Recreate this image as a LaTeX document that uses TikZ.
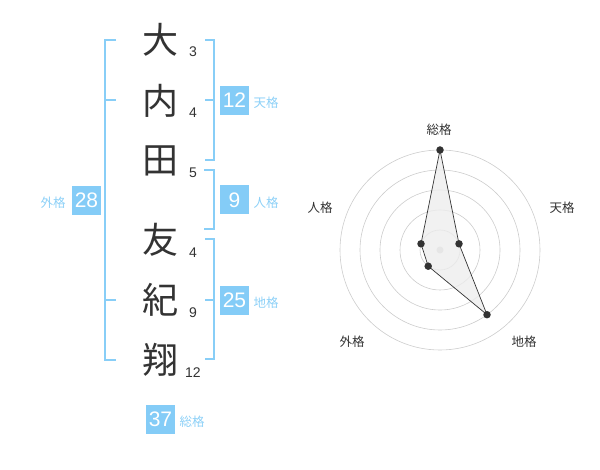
\documentclass[tikz,border=0pt]{standalone}
\usepackage{fontspec}
\setmainfont{Liberation Sans}
\newfontfamily\jpfont{Noto Sans CJK JP}
\definecolor{kbox}{HTML}{84CCF7}
\definecolor{kline}{HTML}{88CEF7}
\definecolor{klabel}{HTML}{8CD0F7}
\definecolor{ktext}{HTML}{333333}
\definecolor{kgrid}{HTML}{CCCCCC}
\tikzset{
  kanji/.style={font=\jpfont\fontsize{36}{36}\selectfont, text=ktext, inner sep=0pt},
  strokes/.style={font=\fontsize{14}{14}\selectfont, text=ktext, inner sep=0pt},
  brk/.style={draw=kline, line width=2pt},
  valbox/.style={fill=kbox, text=white, minimum width=29pt, minimum height=29pt, inner sep=0pt, font=\fontsize{21}{21}\selectfont},
  vlabel/.style={font=\jpfont\fontsize{12.5}{12.5}\selectfont, text=klabel, inner sep=0pt},
  rlabel/.style={font=\jpfont\fontsize{12.5}{12.5}\selectfont, text=ktext, inner sep=0pt},
  ring/.style={draw=kgrid, line width=0.6pt},
  dot/.style={circle, fill=ktext, inner sep=0pt, minimum size=7.5pt},
}
\begin{document}
\begin{tikzpicture}[x=1pt,y=-1pt]
\useasboundingbox (0,0) rectangle (600,470);
% characters
\node[kanji] (c1) at (160,40) {大};
\node[kanji] (c2) at (160,101) {内};
\node[kanji] (c3) at (160,161) {田};
\node[kanji] (c4) at (160,240) {友};
\node[kanji] (c5) at (160,300) {紀};
\node[kanji] (c6) at (160,360) {翔};
\node[strokes] (s1) at (193,52) {3};
\node[strokes] (s2) at (193,113) {4};
\node[strokes] (s3) at (193,173) {5};
\node[strokes] (s4) at (193,253) {4};
\node[strokes] (s5) at (193,313) {9};
\node[strokes] (s6) at (193,373) {12};
% left bracket (gaikaku)
\draw[brk] (116,40) -- (105,40) -- (105,360) -- (116,360);
\draw[brk] (105,100) -- (116,100);
\draw[brk] (105,300) -- (116,300);
% right brackets
\draw[brk] (205,40) -- (214,40) -- (214,160) -- (205,160);
\draw[brk] (205,100) -- (214,100);
\draw[brk] (204,170) -- (214,170) -- (214,229) -- (204,229);
\draw[brk] (205,239) -- (214,239) -- (214,359) -- (205,359);
\draw[brk] (205,300) -- (214,300);
% value boxes
\node[valbox] (ten) at (234.5,100.5) {12};
\node[vlabel] (tenl) at (266,103) {天格};
\node[valbox] (jin) at (234.5,200) {9};
\node[vlabel] (jinl) at (266,203) {人格};
\node[valbox] (chi) at (234.5,300.5) {25};
\node[vlabel] (chil) at (266,303) {地格};
\node[valbox] (gai) at (86.5,200.5) {28};
\node[vlabel] (gail) at (53,203) {外格};
\node[valbox] (sou) at (160.5,419.5) {37};
\node[vlabel] (soul) at (192,422) {総格};
% radar chart
\coordinate (rc) at (440,250);
\foreach \r in {20,40,60,80,100} \draw[ring] (rc) circle (\r pt);
\fill[kgrid] (rc) circle (3.5pt);
\coordinate (pS) at (440,150);
\coordinate (pT) at (459.0,243.8);
\coordinate (pC) at (487.0,314.7);
\coordinate (pG) at (428.2,266.2);
\coordinate (pJ) at (421.0,243.8);
\draw[fill=black!7, fill opacity=0.8, draw=ktext, line width=0.7pt] (pS) -- (pT) -- (pC) -- (pG) -- (pJ) -- cycle;
\foreach \p in {pS,pT,pC,pG,pJ} \node[dot] at (\p) {};
\node[rlabel] (rS) at (439,130) {総格};
\node[rlabel] (rT) at (562,208) {天格};
\node[rlabel] (rJ) at (320,208) {人格};
\node[rlabel] (rG) at (352,342) {外格};
\node[rlabel] (rC) at (524,342) {地格};
\end{tikzpicture}
\end{document}
